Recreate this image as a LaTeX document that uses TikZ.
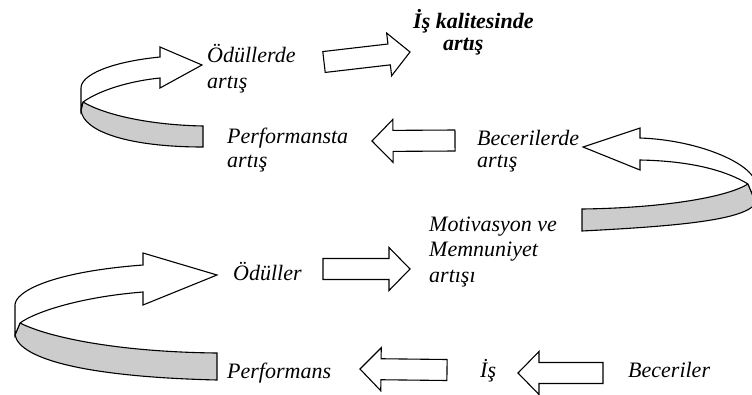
\documentclass[tikz,border=0pt]{standalone}
\usepackage{fontspec}
\setmainfont{Liberation Serif}
\usetikzlibrary{calc}

% block arrow dimensions (half shaft width, half head width, head length)
\def\bashaft{10.5pt}
\def\bahead{21.5pt}
\def\balen{21pt}

\tikzset{
  lbl/.style={font=\fontsize{22}{25}\selectfont\itshape, inner sep=0pt,
              anchor=base west, align=left},
  ribbon/.style={draw=black, line width=1.1pt, line join=miter},
  ribbonback/.style={ribbon, fill=gray!40},
  ribbonfront/.style={ribbon, fill=white},
  blockarrow/.style={draw=black, fill=white, line width=1.1pt, line join=miter,
    to path={
      let \p1=(\tikztostart), \p2=(\tikztotarget),
          \n1={veclen(\x2-\x1,\y2-\y1)},
          \n2={(\x2-\x1)/\n1}, \n3={(\y2-\y1)/\n1}
      in ({\x1-\n3*\bashaft},{\y1+\n2*\bashaft})
      -- ({\x2-\n2*\balen-\n3*\bashaft},{\y2-\n3*\balen+\n2*\bashaft})
      -- ({\x2-\n2*\balen-\n3*\bahead},{\y2-\n3*\balen+\n2*\bahead})
      -- (\p2)
      -- ({\x2-\n2*\balen+\n3*\bahead},{\y2-\n3*\balen-\n2*\bahead})
      -- ({\x2-\n2*\balen+\n3*\bashaft},{\y2-\n3*\balen-\n2*\bashaft})
      -- ({\x1+\n3*\bashaft},{\y1-\n2*\bashaft})
      -- cycle}}
}

\begin{document}
\begin{tikzpicture}[x=1pt, y=-1pt]
\useasboundingbox (0,0) rectangle (752,394);
\clip (0,0) rectangle (752,394);

% ---- labels (placed by the baseline of their last line) ----
\node[lbl, font=\fontsize{22}{26}\selectfont\itshape] (odl) at (207,88) {Ödüllerde\\artış};
\node[lbl, font=\fontsize{22}{22}\selectfont\bfseries\itshape] (isk) at (413,50)
  {İş kalitesinde\\\hspace*{30pt}artış};
\node[lbl, font=\fontsize{22}{24}\selectfont\itshape] (perfa) at (227,167) {Performansta\\artış};
\node[lbl, font=\fontsize{22}{22}\selectfont\itshape] (beca) at (477,167) {Becerilerde\\artış};
\node[lbl, font=\fontsize{22}{25.5}\selectfont\itshape] (mot) at (429,282) {Motivasyon ve\\Memnuniyet\\artışı};
\node[lbl] (odul) at (233,280) {Ödüller};
\node[lbl] (perf) at (227,378) {Performans};
\node[lbl] (is) at (480,377) {İş};
\node[lbl] (bec) at (628,377) {Beceriler};

% ---- end points of the straight block arrows ----
\coordinate (a1s) at (324,62);   \coordinate (a1e) at (410,52);
\coordinate (a2s) at (455,140.5);\coordinate (a2e) at (372,141);
\coordinate (a3s) at (323,269);  \coordinate (a3e) at (410,269);
\coordinate (a4s) at (447,370);  \coordinate (a4e) at (360,369);
\coordinate (a5s) at (603,373);  \coordinate (a5e) at (518,373);

\draw[blockarrow] (a1s) to (a1e);
\draw[blockarrow] (a2s) to (a2e);
\draw[blockarrow] (a3s) to (a3e);
\draw[blockarrow] (a4s) to (a4e);
\draw[blockarrow] (a5s) to (a5e);

% ---- curved ribbon arrow, top left ----
\filldraw[ribbonback] (83,102) .. controls (105,115) and (150,125) .. (203,126)
  -- (203,147) .. controls (130,147) and (83,132) .. (81,110) -- cycle;
\filldraw[ribbonfront] (81,110) -- (81,88) .. controls (81,75) and (110,62) .. (160,57)
  -- (160,47) -- (202,65) -- (160,88) -- (160,78)
  .. controls (130,81) and (100,90) .. (83,102) -- cycle;

% ---- curved ribbon arrow, right ----
\filldraw[ribbonback] (748,184) .. controls (725,198) and (660,208) .. (582,209)
  -- (582,231) .. controls (680,226) and (745,220) .. (756,203) -- cycle;
\filldraw[ribbonfront] (756,203) -- (756,186) .. controls (757,165) and (700,140) .. (640,138)
  -- (640,128) -- (583,147) -- (640,170) -- (640,160)
  .. controls (690,161) and (725,170) .. (748,184) -- cycle;

% ---- curved ribbon arrow, bottom left ----
\filldraw[ribbonback] (20,323) .. controls (50,338) and (120,352) .. (217,353)
  -- (217,380) .. controls (90,377) and (20,360) .. (15,335) -- cycle;
\filldraw[ribbonfront] (15,335) -- (15,305) .. controls (15,292) and (50,272) .. (143,265)
  -- (143,253) -- (217,275) -- (143,305) -- (143,292)
  .. controls (80,297) and (35,312) .. (20,323) -- cycle;
\end{tikzpicture}
\end{document}
